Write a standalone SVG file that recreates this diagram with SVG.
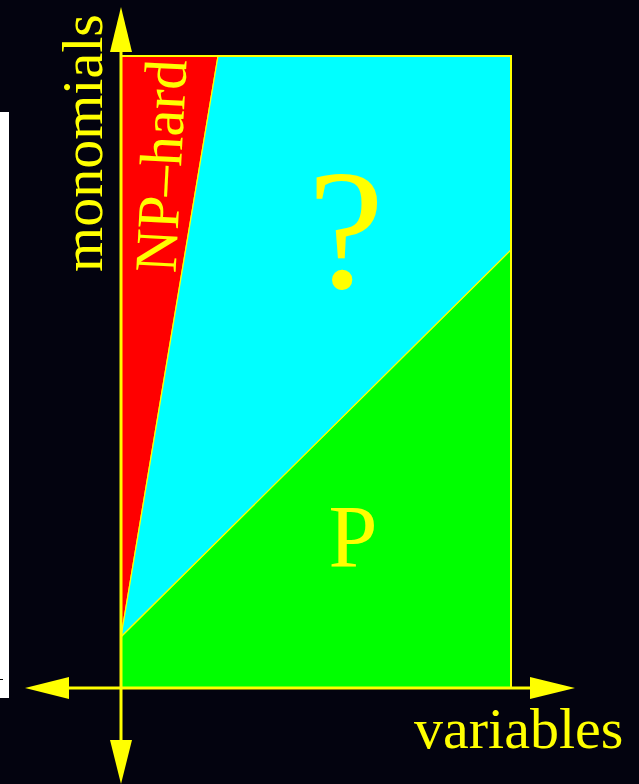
<svg xmlns="http://www.w3.org/2000/svg" width="639" height="784" viewBox="0 0 639 784">
<style>
.lbl{font-family:"Liberation Serif","Times New Roman",serif;fill:#ffff00}
.ax{stroke:#ffff00;stroke-width:3;fill:none}
.ah{fill:#ffff00}
.reg{stroke:#ffff00;stroke-width:1.2}
</style>
<rect width="639" height="784" fill="#03030f"/>
<rect x="0" y="112" width="9" height="586" fill="#ffffff"/>
<line x1="0" y1="679.5" x2="3" y2="679.5" stroke="#000" stroke-width="1"/>
<g id="np-hard">
<polygon class="reg" points="121,56 218,56 121,637" fill="#ff0000"/>
<text class="lbl" font-size="60" text-anchor="middle" transform="translate(181,167) rotate(-87)">NP–hard</text>
</g>
<g id="unknown">
<polygon class="reg" points="218,56 511,56 511,250 121,637" fill="#00ffff"/>
<text class="lbl" font-size="172" text-anchor="middle" x="346" y="288">?</text>
</g>
<g id="p">
<polygon class="reg" points="121,637 511,250 511,688 121,688" fill="#00ff00"/>
<text class="lbl" font-size="88" text-anchor="middle" x="353" y="566">P</text>
</g>
<rect x="121" y="56" width="390" height="632" fill="none" stroke="#ffff00" stroke-width="2"/>
<g id="connectors">
<line class="ax" x1="60" y1="688" x2="535" y2="688"/>
<line class="ax" x1="121" y1="45" x2="121" y2="745"/>
<polygon class="ah" points="25,688 69,677 69,699"/>
<polygon class="ah" points="575,688 530,677 530,699"/>
<polygon class="ah" points="121,7 110,52 132,52"/>
<polygon class="ah" points="121,784 110,740 132,740"/>
</g>
<g id="axis-labels">
<text class="lbl" font-size="58" text-anchor="middle" transform="translate(102,143) rotate(-90)">monomials</text>
<text class="lbl" font-size="58" x="414" y="748">variables</text>
</g>
</svg>
